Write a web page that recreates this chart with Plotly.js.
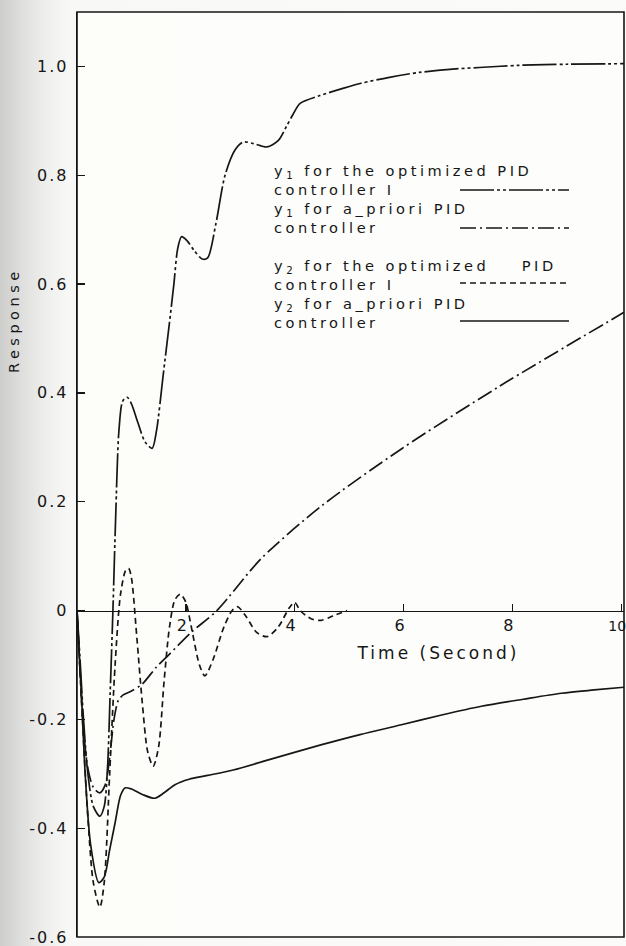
<!DOCTYPE html>
<html>
<head>
<meta charset="utf-8">
<script src="https://cdn.plot.ly/plotly-3.0.1.min.js"></script>
<style>
  html, body { margin: 0; padding: 0; }
  body { background: linear-gradient(to right, #cdcdcb 0px, #dcdcda 18px, #eeeeec 45px, #f8f8f6 70px, #fbfbf9 100%); }
  #chart { width: 626px; height: 946px; }
  g.annotation[data-index="0"] text.annotation-text { letter-spacing: 3.5px; }
  g.annotation[data-index="1"] text.annotation-text { letter-spacing: 3px; }
  g.annotation[data-index="2"] text.annotation-text { letter-spacing: 4.5px; }
  .ytick text { letter-spacing: 2px; }
</style>
</head>
<body>
<div id="chart"></div>
<script>
// ---- data ----
// y1, optimized PID controller I
const t_y1_opt = [0, 0.05, 0.12, 0.2, 0.3, 0.42, 0.5, 0.56, 0.61, 0.66, 0.71, 0.77, 0.84, 0.92, 1.0, 1.12, 1.25, 1.38, 1.46, 1.58, 1.7, 1.78, 1.85, 1.92, 2.02, 2.15, 2.3, 2.4, 2.55, 2.72, 2.9, 3.05, 3.25, 3.49, 3.7, 3.85, 3.97, 4.1, 4.45, 4.9, 5.22, 5.74, 6.29, 6.9, 7.39, 8.13, 9.0, 10.05];
const y1_opt   = [0, -0.08, -0.2, -0.3, -0.36, -0.378, -0.36, -0.29, -0.15, 0.0, 0.17, 0.33, 0.385, 0.392, 0.38, 0.345, 0.31, 0.298, 0.33, 0.43, 0.53, 0.6, 0.665, 0.687, 0.68, 0.662, 0.646, 0.648, 0.71, 0.8, 0.846, 0.861, 0.858, 0.852, 0.864, 0.89, 0.912, 0.932, 0.946, 0.96, 0.969, 0.98, 0.989, 0.995, 0.998, 1.002, 1.004, 1.005];
// y1, a-priori PID controller
const t_y1_apr = [0, 0.05, 0.12, 0.2, 0.3, 0.42, 0.52, 0.6, 0.68, 0.76, 0.85, 1.0, 1.2, 1.45, 1.7, 2.1, 2.57, 3.38, 4.49, 5.96, 7.76, 10.05];
const y1_apr   = [0, -0.1, -0.22, -0.29, -0.325, -0.335, -0.32, -0.27, -0.2, -0.165, -0.155, -0.148, -0.135, -0.105, -0.08, -0.04, 0.0, 0.095, 0.192, 0.297, 0.412, 0.548];
// y2, optimized PID controller I
const t_y2_opt = [0, 0.05, 0.1, 0.2, 0.3, 0.42, 0.5, 0.6, 0.7, 0.8, 0.9, 0.95, 1.0, 1.1, 1.2, 1.3, 1.4, 1.5, 1.6, 1.7, 1.8, 1.9, 2.0, 2.1, 2.25, 2.35, 2.5, 2.7, 2.85, 2.95, 3.1, 3.3, 3.49, 3.7, 3.9, 4.0, 4.1, 4.3, 4.49, 4.7, 4.96];
const y2_opt   = [0, -0.1, -0.2, -0.38, -0.5, -0.545, -0.5, -0.3, -0.1, 0.03, 0.075, 0.077, 0.06, -0.05, -0.17, -0.26, -0.286, -0.25, -0.13, -0.03, 0.02, 0.03, 0.015, -0.03, -0.1, -0.12, -0.09, -0.03, 0.0, 0.007, -0.01, -0.04, -0.048, -0.03, 0.005, 0.015, 0.0, -0.015, -0.018, -0.01, 0.0];
// y2, a-priori PID controller
const t_y2_apr = [0, 0.04, 0.08, 0.15, 0.25, 0.4, 0.5, 0.6, 0.7, 0.8, 0.88, 1.0, 1.2, 1.43, 1.6, 1.8, 2.06, 2.4, 2.87, 3.5, 4.48, 5.2, 5.96, 6.7, 7.43, 8.2, 8.9, 9.5, 10.05];
const y2_apr   = [0, -0.08, -0.15, -0.3, -0.43, -0.5, -0.49, -0.44, -0.39, -0.34, -0.326, -0.328, -0.338, -0.345, -0.335, -0.32, -0.31, -0.303, -0.293, -0.275, -0.247, -0.228, -0.21, -0.192, -0.176, -0.163, -0.152, -0.146, -0.141];

const xTicks = [2, 4, 6, 8, 10];
const xTickText = ['2', '4', '6', '8', '<span style="font-size:14px">10</span>'];
const yTicks = [-0.6, -0.4, -0.2, 0, 0.2, 0.4, 0.6, 0.8, 1.0];
const yTickText = ['-0.6', '-0.4', '-0.2', '0', '0.2', '0.4', '0.6', '0.8', '1.0'];

const legendLines = [
  'y<sub>1</sub> for the optimized PID',
  'controller I',
  'y<sub>1</sub> for a_priori PID',
  'controller',
  '\u00a0',
  'y<sub>2</sub> for the optimized\u00a0\u00a0\u00a0\u00a0PID',
  'controller I',
  'y<sub>2</sub> for a_priori PID',
  'controller'
];

// ---- layout ----
const W = 626, H = 946;
const M = {l: 77, r: 2, t: 12, b: 9};
const PW = W - M.l - M.r, PH = H - M.t - M.b;
const px = x => (x - M.l) / PW;          // page px -> paper x
const py = y => 1 - (y - M.t) / PH;       // page px -> paper y
const xRange = [0, 10.05];
const yRange = [-0.6, 1.1];

const ink = '#161616';
const FONT = 'DejaVu Sans, sans-serif';

const dashes = {
  y1opt: '34px,3px,3px,3px,3px,3px',
  y1apr: '16px,4px,2px,4px',
  y2opt: '6px,4px',
  y2apr: 'solid'
};

function tr(x, y, dash, name) {
  return {x: x, y: y, type: 'scatter', mode: 'lines', name: name,
          line: {color: ink, width: 1.7, dash: dash, shape: 'spline', smoothing: 0.8},
          hoverinfo: 'skip', showlegend: false};
}

const traces = [
  tr(t_y1_opt, y1_opt, dashes.y1opt, 'y1 optimized'),
  tr(t_y1_apr, y1_apr, dashes.y1apr, 'y1 a-priori'),
  tr(t_y2_opt, y2_opt, dashes.y2opt, 'y2 optimized'),
  tr(t_y2_apr, y2_apr, dashes.y2apr, 'y2 a-priori')
];

const annotations = [
  {xref: 'paper', yref: 'paper', x: px(272), y: py(246),
   xanchor: 'left', yanchor: 'middle', align: 'left', showarrow: false,
   text: legendLines.join('<br>'),
   font: {family: FONT, size: 14.6, color: ink}},
  {xref: 'paper', yref: 'paper', x: px(438), y: py(653),
   xanchor: 'center', yanchor: 'middle', showarrow: false, text: 'Time (Second)',
   font: {family: FONT, size: 17, color: ink}},
  {xref: 'paper', yref: 'paper', x: px(14), y: py(320),
   xanchor: 'center', yanchor: 'middle', showarrow: false, text: 'Response', textangle: -90,
   font: {family: FONT, size: 14.5, color: ink}}
];

const sampleRows = [
  {y: 190, dash: dashes.y1opt},
  {y: 228, dash: dashes.y1apr},
  {y: 283, dash: dashes.y2opt},
  {y: 321, dash: dashes.y2apr}
];
const shapes = [
  {type: 'rect', xref: 'paper', yref: 'paper', x0: 0, x1: 1, y0: 0, y1: 1,
   line: {color: ink, width: 1.6}}
];
sampleRows.forEach(r => {
  shapes.push({type: 'line', xref: 'paper', yref: 'paper', x0: px(460), x1: px(569),
    y0: py(r.y), y1: py(r.y), line: {color: ink, width: 1.4, dash: r.dash}});
});

const layout = {
  width: W, height: H,
  margin: M,
  paper_bgcolor: 'rgba(0,0,0,0)',
  plot_bgcolor: 'rgba(253,253,251,0.9)',
  showlegend: false,
  xaxis: {
    range: xRange, anchor: 'free',
    position: (0 - yRange[0]) / (yRange[1] - yRange[0]),
    showline: true, linecolor: ink, linewidth: 1.5,
    ticks: 'inside', ticklen: 7, tickwidth: 1.3, tickcolor: ink,
    tickvals: xTicks, ticktext: xTickText, ticklabeloverflow: 'allow',
    ticklabelshift: -4,
    showgrid: false, zeroline: false,
    tickfont: {family: FONT, size: 16, color: ink}
  },
  yaxis: {
    range: yRange,
    showline: true, linecolor: ink, linewidth: 1.3,
    ticks: 'inside', ticklen: 8, tickwidth: 1.3, tickcolor: ink,
    tickvals: yTicks, ticktext: yTickText, ticklabeloverflow: 'allow',
    ticklabelstandoff: 4,
    showgrid: false, zeroline: false,
    tickfont: {family: FONT, size: 16, color: ink}
  },
  annotations: annotations,
  shapes: shapes
};

Plotly.newPlot('chart', traces, layout, {staticPlot: true, displayModeBar: false});
</script>
</body>
</html>
